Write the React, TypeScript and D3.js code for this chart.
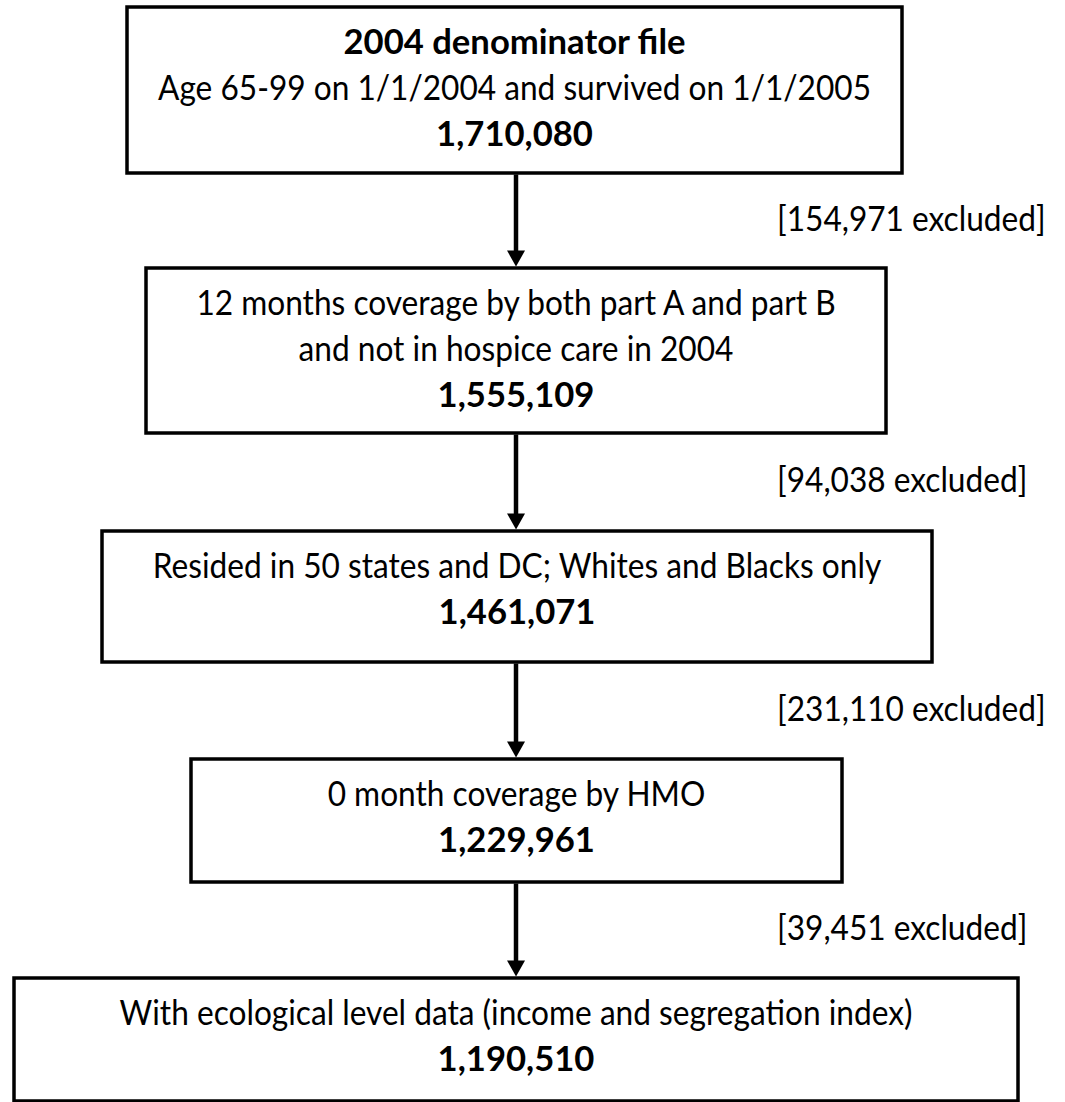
import React, { useEffect, useRef } from "react";
import * as d3 from "d3";

const WIDTH = 1065;
const HEIGHT = 1102;

// flow data
const stageHeadings = ["2004 denominator file", "", "", "", ""];
const stageCriteria = [
  ["Age 65-99 on 1/1/2004 and survived on 1/1/2005"],
  ["12 months coverage by both part A and part B", "and not in hospice care in 2004"],
  ["Resided in 50 states and DC; Whites and Blacks only"],
  ["0 month coverage by HMO"],
  ["With ecological level data (income and segregation index)"],
];
const stageCounts = [1710080, 1555109, 1461071, 1229961, 1190510];
const excludedCounts = [154971, 94038, 231110, 39451];

// layout (pixels)
const boxTop = [7, 268, 531, 759, 978];
const boxBottom = [173, 433, 662, 882, 1101];
const boxLeft = [127, 146, 102, 191, 14];
const boxRight = [902, 886, 932, 842, 1018];

const FONT = "Lato, 'Open Sans', sans-serif";
const FONT_SIZE = 34;
const LINE = 46;
const ARROW_X = 516;
const LABEL_X = 777;

export default function App() {
  const ref = useRef<SVGSVGElement | null>(null);

  useEffect(() => {
    const svg = d3.select(ref.current);
    svg.selectAll("*").remove();
    const fmt = d3.format(",");

    const stages = stageCounts.map((count, i) => {
      const lines: { text: string; bold: boolean }[] = [];
      if (stageHeadings[i]) lines.push({ text: stageHeadings[i], bold: true });
      stageCriteria[i].forEach((t) => lines.push({ text: t, bold: false }));
      lines.push({ text: fmt(count), bold: true });
      return { i, lines };
    });

    const g = svg.append("g");

    // boxes
    g.selectAll("rect.box")
      .data(stages)
      .join("rect")
      .attr("class", "box")
      .attr("x", (d) => boxLeft[d.i])
      .attr("y", (d) => boxTop[d.i])
      .attr("width", (d) => boxRight[d.i] - boxLeft[d.i])
      .attr("height", (d) => boxBottom[d.i] - boxTop[d.i])
      .attr("fill", "#fff")
      .attr("stroke", "#000")
      .attr("stroke-width", 3.5);

    // box text
    const texts = g
      .selectAll("g.stage")
      .data(stages)
      .join("g")
      .attr("class", "stage")
      .selectAll("text")
      .data((d) =>
        d.lines.map((l, j) => ({
          ...l,
          x: (boxLeft[d.i] + boxRight[d.i]) / 2,
          y: boxTop[d.i] + 47 + j * LINE,
        }))
      )
      .join("text")
      .attr("x", (d) => d.x)
      .attr("y", (d) => d.y)
      .attr("text-anchor", "middle")
      .attr("font-family", FONT)
      .attr("font-size", FONT_SIZE)
      .attr("font-weight", (d) => (d.bold ? 700 : 400))
      .attr("fill", "#000")
      .text((d) => d.text);

    // arrows
    const arrows = excludedCounts.map((n, i) => ({
      n,
      y0: boxBottom[i] + 1.5,
      y1: boxTop[i + 1] - 1.5,
      mid: (boxBottom[i] + boxTop[i + 1]) / 2,
    }));

    g.selectAll("line.arrow")
      .data(arrows)
      .join("line")
      .attr("class", "arrow")
      .attr("x1", ARROW_X)
      .attr("x2", ARROW_X)
      .attr("y1", (d) => d.y0)
      .attr("y2", (d) => d.y1 - 14)
      .attr("stroke", "#000")
      .attr("stroke-width", 4.5);

    g.selectAll("path.head")
      .data(arrows)
      .join("path")
      .attr("class", "head")
      .attr("d", (d) => {
        const p = d3.path();
        p.moveTo(ARROW_X - 9, d.y1 - 16);
        p.lineTo(ARROW_X + 9, d.y1 - 16);
        p.lineTo(ARROW_X, d.y1);
        p.closePath();
        return p.toString();
      })
      .attr("fill", "#000");

    const labels = g
      .selectAll("text.excl")
      .data(arrows)
      .join("text")
      .attr("class", "excl")
      .attr("x", LABEL_X)
      .attr("y", (d) => d.mid + 10)
      .attr("font-family", FONT)
      .attr("font-size", FONT_SIZE)
      .attr("fill", "#000")
      .text((d) => `[${fmt(d.n)} excluded]`);

    // squeeze glyphs to the narrower original face
    const regRef = texts.filter((d) => d.text.startsWith("Age")).node() as SVGTextElement;
    const boldRef = texts.filter((d) => d.text === stageHeadings[0]).node() as SVGTextElement;
    const kReg = 713 / regRef.getComputedTextLength();
    const kBold = 342 / boldRef.getComputedTextLength();
    texts.each(function (d) {
      const el = this as SVGTextElement;
      const w = el.getComputedTextLength();
      el.setAttribute("textLength", String(w * (d.bold ? kBold : kReg)));
      el.setAttribute("lengthAdjust", "spacingAndGlyphs");
    });
    labels.each(function () {
      const el = this as SVGTextElement;
      el.setAttribute("textLength", String(el.getComputedTextLength() * kReg));
      el.setAttribute("lengthAdjust", "spacingAndGlyphs");
    });
  }, []);

  return (
    <svg
      ref={ref}
      width={WIDTH}
      height={HEIGHT}
      style={{ position: "absolute", left: 0, top: 0, background: "#fff" }}
    />
  );
}
